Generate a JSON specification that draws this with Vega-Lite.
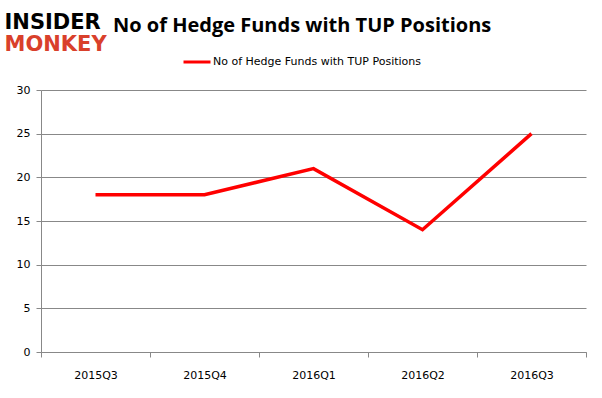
{
  "$schema": "https://vega.github.io/schema/vega-lite/v6.json",
  "autosize": "none",
  "width": 545,
  "height": 262,
  "padding": {"left": 41, "top": 90, "right": 16, "bottom": 46},
  "background": "white",
  "title": {
    "text": "No of Hedge Funds with TUP Positions",
    "anchor": "start",
    "frame": "group",
    "dx": 72,
    "offset": -41,
    "baseline": "alphabetic",
    "font": "Open Sans",
    "fontSize": 20,
    "fontWeight": "bold",
    "color": "#000000"
  },
  "data": {
    "values": [
      {"quarter": "2015Q3", "funds": 18, "series": "No of Hedge Funds with TUP Positions"},
      {"quarter": "2015Q4", "funds": 18, "series": "No of Hedge Funds with TUP Positions"},
      {"quarter": "2016Q1", "funds": 21, "series": "No of Hedge Funds with TUP Positions"},
      {"quarter": "2016Q2", "funds": 14, "series": "No of Hedge Funds with TUP Positions"},
      {"quarter": "2016Q3", "funds": 25, "series": "No of Hedge Funds with TUP Positions"}
    ]
  },
  "mark": {"type": "line", "strokeWidth": 3.5, "strokeJoin": "miter"},
  "encoding": {
    "x": {
      "field": "quarter",
      "type": "nominal",
      "sort": null,
      "scale": {"type": "band", "paddingInner": 0, "paddingOuter": 0},
      "axis": {
        "title": "MONKEY",
        "titleX": -37,
        "titleY": -302,
        "titleAlign": "left",
        "titleBaseline": "alphabetic",
        "titleAnchor": null,
        "titleFont": "DejaVu Sans",
        "titleFontSize": 21,
        "titleFontWeight": "bold",
        "titleColor": "#d9402b",
        "labelAngle": 0,
        "labelFont": "DejaVu Sans",
        "labelFontSize": 11,
        "labelColor": "#000000",
        "labelPadding": 12,
        "tickBand": "extent",
        "ticks": true,
        "tickSize": 5,
        "tickColor": "#888888",
        "domainColor": "#888888",
        "grid": false
      }
    },
    "y": {
      "field": "funds",
      "type": "quantitative",
      "scale": {"domain": [0, 30], "nice": false},
      "axis": {
        "values": [0, 5, 10, 15, 20, 25, 30],
        "title": "INSIDER",
        "titleAngle": 0,
        "titleX": -37,
        "titleY": -62,
        "titleAlign": "left",
        "titleBaseline": "alphabetic",
        "titleAnchor": null,
        "titleFont": "DejaVu Sans",
        "titleFontSize": 21,
        "titleFontWeight": "bold",
        "titleColor": "#000000",
        "labelFont": "DejaVu Sans",
        "labelFontSize": 11,
        "labelColor": "#000000",
        "labelPadding": 6,
        "tickSize": 5,
        "tickColor": "#888888",
        "domainColor": "#888888",
        "grid": true,
        "gridColor": "#888888",
        "gridWidth": 1
      }
    },
    "color": {
      "field": "series",
      "type": "nominal",
      "scale": {"range": ["#ff0000"]},
      "legend": {
        "title": null,
        "orient": "none",
        "legendX": 141,
        "legendY": -43,
        "symbolType": "stroke",
        "symbolSize": 729,
        "symbolStrokeWidth": 3,
        "labelFont": "DejaVu Sans",
        "labelFontSize": 11,
        "labelColor": "#000000",
        "labelOffset": 1,
        "labelLimit": 400
      }
    }
  },
  "config": {
    "view": {"stroke": null}
  }
}
